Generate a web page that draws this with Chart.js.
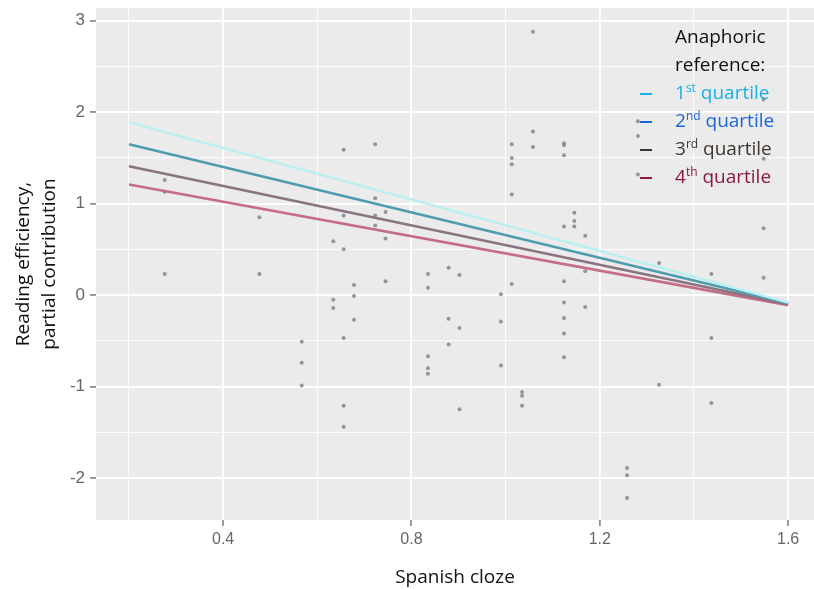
<!DOCTYPE html>
<html>
<head>
<meta charset="utf-8">
<script src="https://cdn.jsdelivr.net/npm/chart.js@4/dist/chart.umd.min.js"></script>
<style>
    body { margin: 0; background: #fff; }
    .wrap { position: relative; width: 814px; height: 590px; }
    .legend {
        position: absolute;
        left: 640px;
        top: 22px;
        font-family: "Open Sans", sans-serif;
        font-size: 19px;
        line-height: 28px;
        white-space: nowrap;
    }
    .legend .row { height: 28px; }
    .legend .indent { padding-left: 35px; color: #111; }
    .legend .dash {
        display: inline-block;
        width: 12px;
        height: 1.5px;
        margin-right: 23px;
        vertical-align: middle;
    }
    .legend sup { font-size: 12px; line-height: 0; vertical-align: 7px; }
</style>
</head>
<body>
<div class="wrap">
    <canvas id="chart"></canvas>
    <div class="legend">
        <div class="row indent">Anaphoric</div>
        <div class="row indent">reference:</div>
        <div class="row" style="color:#1aaee8"><span class="dash" style="background:#1aaee8"></span>1<sup>st</sup> quartile</div>
        <div class="row" style="color:#1a66d9"><span class="dash" style="background:#1a66d9"></span>2<sup>nd</sup> quartile</div>
        <div class="row" style="color:#3d3630"><span class="dash" style="background:#3d3630"></span>3<sup>rd</sup> quartile</div>
        <div class="row" style="color:#8b1a3c"><span class="dash" style="background:#8b1a3c"></span>4<sup>th</sup> quartile</div>
    </div>
</div>
<script>
// axis setup
const xMin = 0.13, xMax = 1.655;
const yMin = -2.46, yMax = 3.14;
const xGrid = [0.2, 0.4, 0.6, 0.8, 1.0, 1.2, 1.4, 1.6];
const yGrid = [-2, -1.5, -1, -0.5, 0, 0.5, 1, 1.5, 2, 2.5, 3];
const xLabels = [0.4, 0.8, 1.2, 1.6];
const yLabels = [-2, -1, 0, 1, 2, 3];

// fitted lines (start at 0.2, end at 1.6)
const lineX = [0.2, 1.6];
const q1 = [1.89, -0.08];
const q2 = [1.65, -0.09];
const q3 = [1.41, -0.10];
const q4 = [1.21, -0.11];

// observations
const pointX = [
    0.276, 0.276, 0.276,
    0.477, 0.477,
    0.567, 0.567, 0.567,
    0.634, 0.634, 0.634,
    0.656, 0.656, 0.656, 0.656, 0.656, 0.656,
    0.678, 0.678, 0.678,
    0.723, 0.723, 0.723, 0.723,
    0.745, 0.745, 0.745,
    0.835, 0.835, 0.835, 0.835, 0.835,
    0.879, 0.879, 0.879,
    0.902, 0.902, 0.902,
    0.990, 0.990, 0.990,
    1.013, 1.013, 1.013, 1.013, 1.013,
    1.035, 1.035, 1.035,
    1.058, 1.058, 1.058,
    1.124, 1.124, 1.124, 1.124, 1.124, 1.124, 1.124, 1.124, 1.124,
    1.146, 1.146, 1.146,
    1.169, 1.169, 1.169,
    1.258, 1.258, 1.258,
    1.281, 1.281, 1.281,
    1.326, 1.326,
    1.437, 1.437, 1.437,
    1.548, 1.548, 1.548, 1.548
];
const pointY = [
    1.26, 1.13, 0.23,
    0.85, 0.23,
    -0.51, -0.74, -0.99,
    0.59, -0.05, -0.14,
    1.59, 0.87, 0.50, -0.47, -1.21, -1.44,
    0.11, -0.01, -0.27,
    1.65, 1.06, 0.87, 0.76,
    0.91, 0.62, 0.15,
    0.23, 0.08, -0.67, -0.80, -0.86,
    0.30, -0.26, -0.54,
    0.22, -0.36, -1.25,
    0.01, -0.29, -0.77,
    1.65, 1.50, 1.43, 1.10, 0.12,
    -1.06, -1.10, -1.21,
    2.88, 1.79, 1.62,
    1.66, 1.64, 1.53, 0.75, 0.15, -0.08, -0.25, -0.42, -0.68,
    0.90, 0.81, 0.75,
    0.65, 0.26, -0.13,
    -1.89, -1.97, -2.22,
    1.90, 1.74, 1.32,
    0.35, -0.98,
    0.23, -0.47, -1.18,
    2.14, 1.49, 0.73, 0.19
];

function pairs(xs, ys) {
    return xs.map((x, i) => ({ x: x, y: ys[i] }));
}

function near(list, v) {
    return list.some((item) => Math.abs(item - v) < 1e-6);
}

// no extra room for tick labels: the plot area is fixed by layout padding
function noLabelPadding(scale) {
    scale.paddingLeft = 0;
    scale.paddingRight = 0;
    scale.paddingTop = 0;
    scale.paddingBottom = 0;
}

const plotBackground = {
    id: 'plotBackground',
    beforeDraw(chart) {
        const { ctx, chartArea } = chart;
        ctx.save();
        ctx.fillStyle = '#ebebeb';
        ctx.fillRect(chartArea.left, chartArea.top, chartArea.right - chartArea.left, chartArea.bottom - chartArea.top);
        ctx.restore();
    }
};

function fittedLine(label, ys, color) {
    return {
        label: label,
        data: pairs(lineX, ys),
        showLine: true,
        borderColor: color,
        borderWidth: 2.6,
        pointRadius: 0,
        fill: false
    };
}

new Chart(document.getElementById('chart'), {
    type: 'scatter',
    data: {
        datasets: [
            fittedLine('1st quartile', q1, '#bcefef'),
            fittedLine('2nd quartile', q2, '#4e9caf'),
            fittedLine('3rd quartile', q3, '#8a7482'),
            fittedLine('4th quartile', q4, '#c46d85'),
            {
                label: 'observations',
                data: pairs(pointX, pointY),
                pointRadius: 2,
                pointBackgroundColor: 'rgba(125, 128, 138, 0.8)',
                pointBorderWidth: 0
            }
        ]
    },
    options: {
        responsive: true,
        maintainAspectRatio: false,
        animation: false,
        layout: { autoPadding: false, padding: { top: 8, right: 0, left: 0, bottom: 0 } },
        plugins: {
            legend: { display: false },
            tooltip: { enabled: false }
        },
        scales: {
            x: {
                type: 'linear',
                min: xMin,
                max: xMax,
                afterBuildTicks: (scale) => { scale.ticks = xGrid.map((v) => ({ value: v })); },
                afterFit: (scale) => { scale.height = 70; noLabelPadding(scale); },
                border: { display: false },
                grid: {
                    color: '#ffffff',
                    lineWidth: (c) => near(xLabels, c.tick.value) ? 1.9 : 0.9,
                    tickColor: (c) => near(xLabels, c.tick.value) ? '#555555' : 'rgba(0,0,0,0)',
                    tickLength: 6,
                    tickWidth: 1.2
                },
                ticks: {
                    color: '#666666',
                    padding: 4,
                    maxRotation: 0,
                    autoSkip: false,
                    font: { family: '"Liberation Sans", Arial, sans-serif', size: 16 },
                    callback: (v) => near(xLabels, v) ? v.toFixed(1) : ''
                },
                title: {
                    display: true,
                    text: 'Spanish cloze',
                    color: '#111111',
                    padding: { top: 0, bottom: 1 },
                    font: { family: '"Open Sans", sans-serif', size: 19 }
                }
            },
            y: {
                type: 'linear',
                min: yMin,
                max: yMax,
                afterBuildTicks: (scale) => { scale.ticks = yGrid.map((v) => ({ value: v })); },
                afterFit: (scale) => { scale.width = 96; noLabelPadding(scale); },
                border: { display: false },
                grid: {
                    color: '#ffffff',
                    lineWidth: (c) => near(yLabels, c.tick.value) ? 1.9 : 0.9,
                    tickColor: (c) => near(yLabels, c.tick.value) ? '#555555' : 'rgba(0,0,0,0)',
                    tickLength: 6,
                    tickWidth: 1.2
                },
                ticks: {
                    color: '#666666',
                    padding: 5,
                    autoSkip: false,
                    font: { family: '"Liberation Sans", Arial, sans-serif', size: 17 },
                    callback: (v) => near(yLabels, v) ? String(v) : ''
                },
                title: {
                    display: true,
                    text: ['Reading efficiency,', 'partial contribution'],
                    color: '#111111',
                    padding: { top: 10, bottom: 0 },
                    font: { family: '"Open Sans", sans-serif', size: 19, lineHeight: 1.4 }
                }
            }
        }
    },
    plugins: [plotBackground]
});
</script>
</body>
</html>
